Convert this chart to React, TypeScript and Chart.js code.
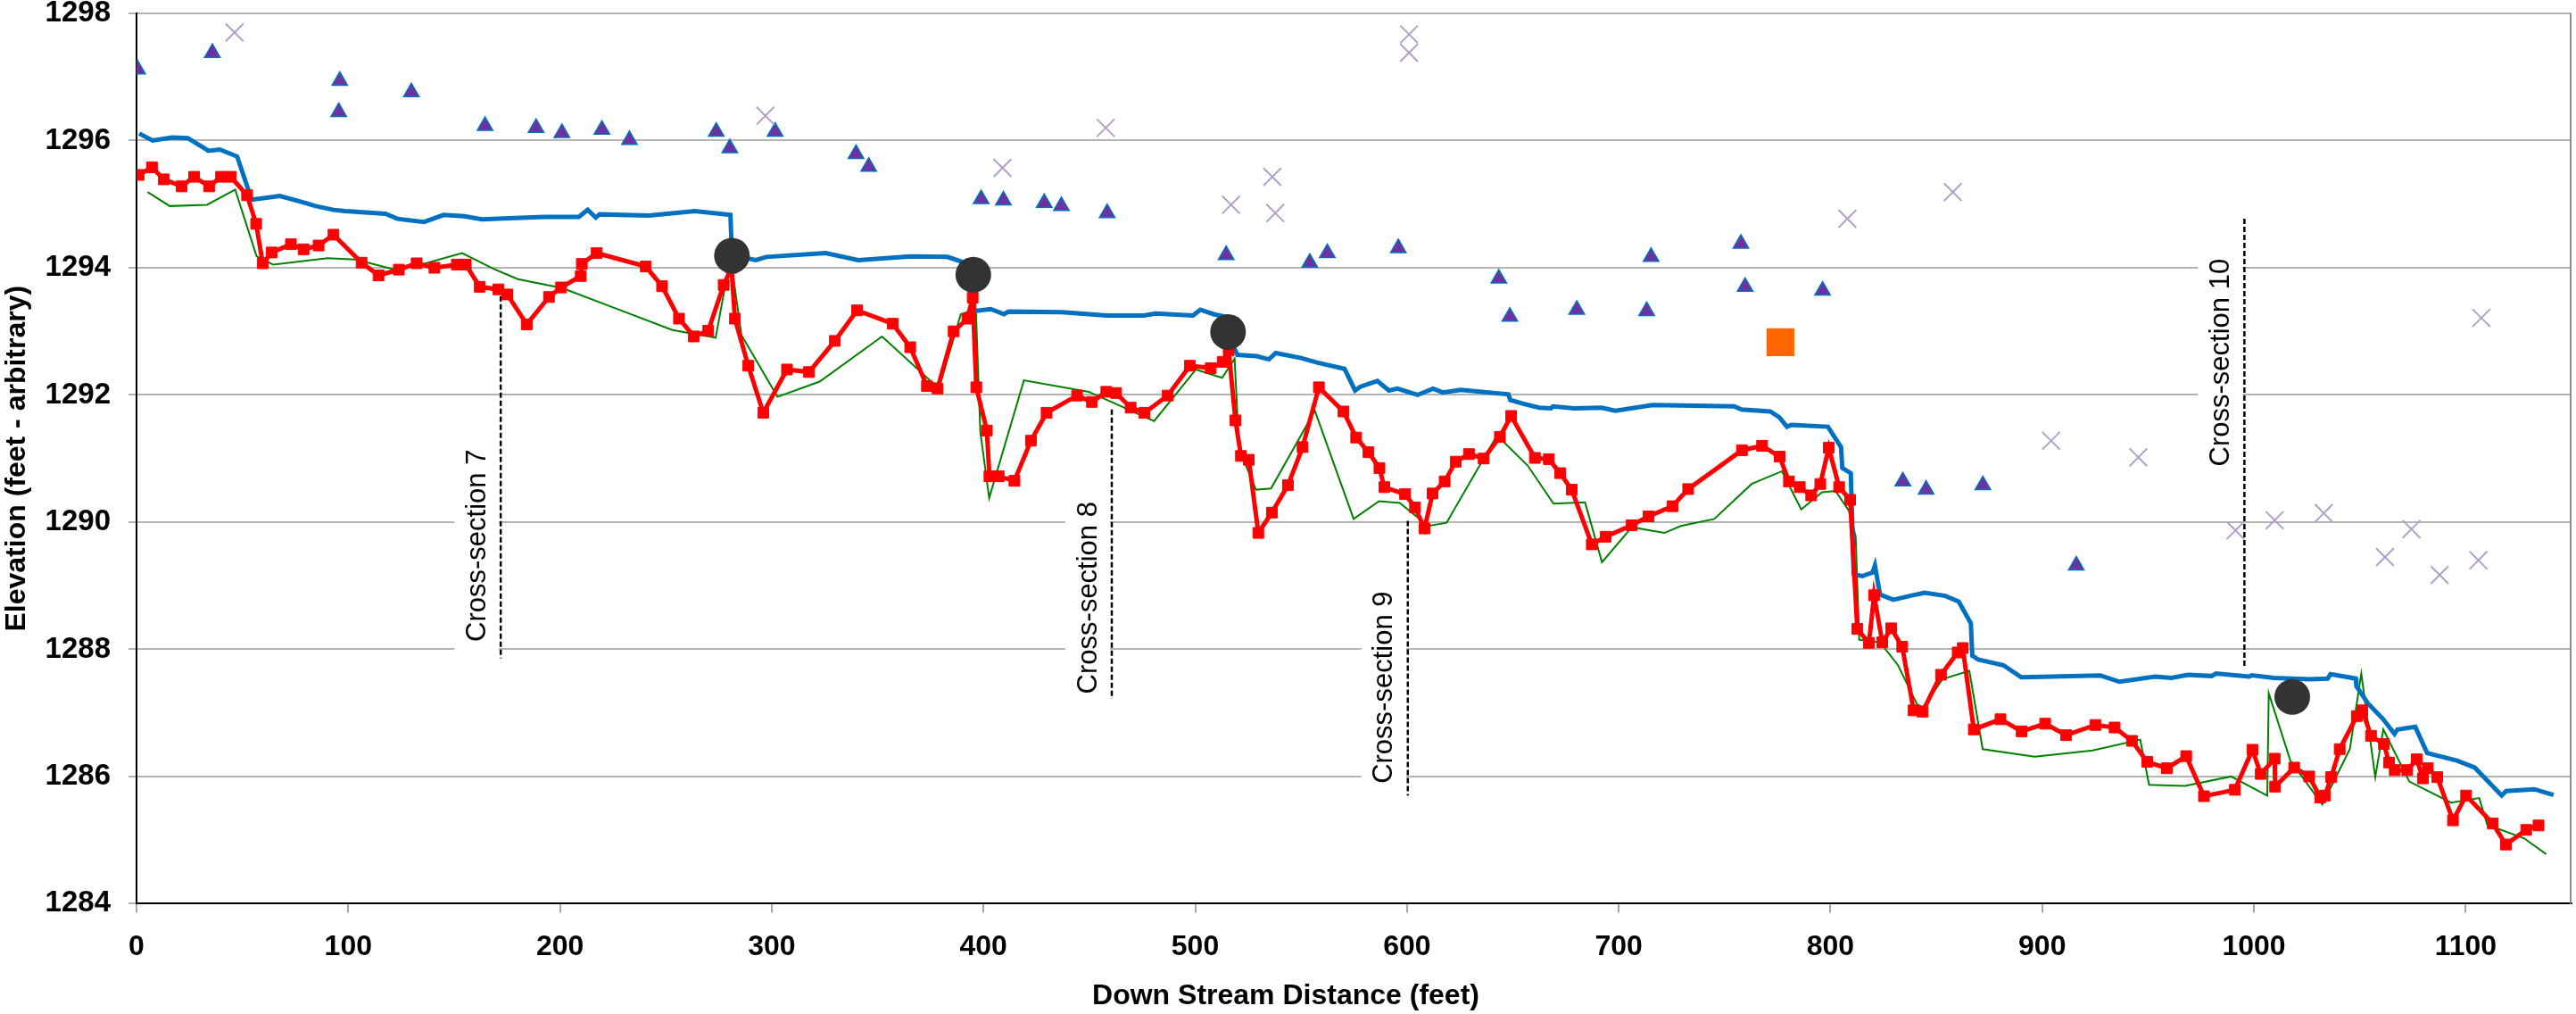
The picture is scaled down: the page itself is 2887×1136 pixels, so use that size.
import React, { useEffect, useRef } from 'react';
import { Chart, registerables } from 'chart.js';

Chart.register(...registerables);

const FONT = "'Liberation Sans', Arial, Helvetica, sans-serif";

// Water surface profile (blue)
const surfaceDist = [1.3, 7.6, 16.9, 24.2, 34, 39.3, 47.5, 54.4, 67.7, 77.5, 84.6, 93, 98.6, 117.6, 123.2, 135.8, 145, 154.8, 163.2, 175.8, 192.7, 208.9, 213.1, 216.9, 218.7, 241.9, 263.7, 280.5, 281.2, 288.2, 292.4, 297.4, 325.5, 340.9, 365.5, 383, 389.3, 395, 395.7, 403.4, 409.7, 411.8, 437.1, 458.2, 475.7, 481.3, 498.9, 502.4, 508.7, 514.3, 516, 520, 529, 534.8, 538, 550, 557.5, 570.5, 575.5, 578, 586, 591.5, 595.5, 605, 612.3, 617, 625.4, 647.9, 648.8, 655, 662.5, 668, 669, 679, 692, 698.4, 716, 754.5, 758, 771.5, 775.8, 779.5, 781.5, 798.8, 805, 805.6, 809.6, 811, 815, 819.9, 821, 823.4, 829.7, 837.5, 844.5, 854.3, 860.6, 866.3, 867, 869.8, 881.7, 890.1, 927.4, 936.5, 953.3, 961, 968.8, 980, 982.1, 997.6, 999, 1009.5, 1026.4, 1034.8, 1036.2, 1048.1, 1048.4, 1053.8, 1060.8, 1066.4, 1067.8, 1076.2, 1081.8, 1095.9, 1104.3, 1117, 1119.1, 1132.4, 1141.5];
const surfaceElev = [1296.11, 1296.0, 1296.05, 1296.04, 1295.84, 1295.86, 1295.75, 1295.07, 1295.13, 1295.04, 1294.97, 1294.91, 1294.89, 1294.85, 1294.77, 1294.72, 1294.83, 1294.81, 1294.76, 1294.78, 1294.8, 1294.8, 1294.91, 1294.79, 1294.84, 1294.82, 1294.89, 1294.83, 1294.2, 1294.15, 1294.12, 1294.17, 1294.23, 1294.12, 1294.18, 1294.17, 1294.1, 1293.98, 1293.32, 1293.35, 1293.27, 1293.31, 1293.3, 1293.25, 1293.25, 1293.28, 1293.25, 1293.34, 1293.27, 1293.23, 1292.9, 1292.63, 1292.61, 1292.56, 1292.66, 1292.58, 1292.51, 1292.41, 1292.07, 1292.13, 1292.22, 1292.07, 1292.1, 1292.0, 1292.1, 1292.04, 1292.08, 1292.01, 1291.92, 1291.86, 1291.8, 1291.79, 1291.82, 1291.79, 1291.8, 1291.75, 1291.84, 1291.82, 1291.77, 1291.74, 1291.65, 1291.5, 1291.53, 1291.5, 1291.18, 1290.85, 1290.77, 1289.18, 1289.15, 1289.21, 1289.32, 1288.86, 1288.78, 1288.84, 1288.89, 1288.84, 1288.75, 1288.41, 1287.9, 1287.84, 1287.75, 1287.56, 1287.59, 1287.49, 1287.57, 1287.55, 1287.6, 1287.58, 1287.62, 1287.57, 1287.59, 1287.55, 1287.53, 1287.54, 1287.61, 1287.54, 1287.42, 1287.15, 1286.91, 1286.67, 1286.74, 1286.78, 1286.37, 1286.25, 1286.14, 1285.7, 1285.77, 1285.8, 1285.71];

// Thalweg survey (red squares)
const thalwegDist = [1, 7.3, 12.9, 21.3, 27.2, 34.3, 39.9, 44.5, 52.2, 56.5, 59.6, 63.8, 72.9, 78.9, 86, 93, 106.3, 114.3, 123.9, 132.3, 140.7, 151.3, 155.5, 162.1, 170.9, 175.1, 184.3, 194.8, 200.5, 209.8, 210.3, 217.3, 240.5, 248.2, 256.2, 263.2, 270, 277.3, 281, 282.6, 288.9, 296, 307.2, 317.6, 329.8, 340.3, 357.1, 365.4, 373.3, 378.3, 385.9, 392.4, 394.9, 396.6, 401.6, 402.8, 407.2, 414.6, 422.4, 429.8, 444.2, 451.2, 458, 462.6, 469.5, 476, 487, 497.5, 507.3, 513, 515.8, 519, 521.6, 525.3, 529.8, 536.2, 543.8, 550.7, 558.4, 570, 576, 581.8, 587, 589.3, 599.1, 603.8, 608.3, 612.1, 617.8, 623, 629.3, 636.2, 643.9, 649.2, 660.4, 667, 672.3, 677.8, 687.3, 693.8, 706.1, 714.1, 725.4, 732.8, 758.2, 767.7, 776, 780.4, 785.5, 790.9, 795.2, 799.2, 804.1, 809.3, 812.7, 818.2, 820.6, 824.5, 828.7, 833.9, 839.3, 843.5, 852.2, 860.1, 862.5, 867.7, 880.3, 890.3, 901.4, 911.3, 925.1, 934.2, 942.4, 949.6, 958.9, 968, 976.4, 991, 999.3, 1003.2, 1009.8, 1010, 1019, 1026.1, 1031.3, 1033.6, 1036.5, 1040.5, 1048.6, 1051.2, 1055.3, 1061.4, 1063.8, 1066.5, 1072.4, 1076.9, 1079.8, 1082.1, 1086.6, 1094, 1100.2, 1112.8, 1119, 1128.6, 1134.4];
const thalwegElev = [1295.46, 1295.58, 1295.39, 1295.28, 1295.43, 1295.28, 1295.43, 1295.43, 1295.14, 1294.69, 1294.07, 1294.24, 1294.37, 1294.29, 1294.35, 1294.52, 1294.08, 1293.88, 1293.97, 1294.07, 1294.0, 1294.05, 1294.05, 1293.7, 1293.66, 1293.58, 1293.11, 1293.54, 1293.69, 1293.87, 1294.06, 1294.23, 1294.02, 1293.71, 1293.2, 1292.92, 1293.01, 1293.73, 1294.0, 1293.2, 1292.46, 1291.72, 1292.4, 1292.36, 1292.85, 1293.33, 1293.12, 1292.75, 1292.14, 1292.1, 1293.0, 1293.2, 1293.53, 1292.12, 1291.44, 1290.72, 1290.72, 1290.65, 1291.28, 1291.72, 1291.99, 1291.89, 1292.05, 1292.03, 1291.8, 1291.72, 1291.99, 1292.46, 1292.42, 1292.52, 1292.7, 1291.6, 1291.04, 1290.98, 1289.83, 1290.15, 1290.58, 1291.18, 1292.12, 1291.74, 1291.33, 1291.1, 1290.85, 1290.55, 1290.44, 1290.23, 1289.9, 1290.45, 1290.64, 1290.95, 1291.07, 1291.0, 1291.34, 1291.67, 1291.01, 1290.99, 1290.77, 1290.51, 1289.65, 1289.77, 1289.95, 1290.09, 1290.25, 1290.52, 1291.13, 1291.2, 1291.03, 1290.64, 1290.55, 1290.42, 1290.6, 1291.17, 1290.55, 1290.35, 1288.32, 1288.1, 1288.85, 1288.11, 1288.33, 1288.04, 1287.04, 1287.02, 1287.6, 1287.95, 1288.02, 1286.74, 1286.9, 1286.71, 1286.83, 1286.65, 1286.81, 1286.77, 1286.56, 1286.23, 1286.13, 1286.32, 1285.69, 1285.79, 1286.42, 1286.04, 1286.28, 1285.84, 1286.14, 1286.0, 1285.67, 1285.7, 1285.99, 1286.43, 1286.95, 1287.04, 1286.64, 1286.51, 1286.22, 1286.1, 1286.1, 1286.27, 1285.97, 1286.13, 1285.99, 1285.31, 1285.7, 1285.26, 1284.93, 1285.16, 1285.23];

// Earlier bed profile (green)
const bedDist = [5.2, 15.7, 33.3, 46.6, 56.7, 64.5, 90.2, 103.5, 121.1, 136.5, 153.8, 168.8, 180.1, 201.1, 226.4, 253.1, 263, 273.5, 278.1, 281, 285.7, 302.7, 322.6, 352.1, 376, 379.5, 389.3, 396.4, 398.5, 402.7, 419.1, 449.7, 480.6, 500.3, 512.7, 518.6, 520.7, 528.7, 535.8, 556.5, 574.8, 586.8, 596.6, 610, 618.7, 642.3, 645.1, 657, 669.2, 684.1, 692.1, 706.2, 721.6, 729.3, 745.1, 762.8, 777.1, 786.2, 796, 802.4, 808.7, 811.9, 813.6, 823.4, 831.9, 841, 843.8, 852.9, 865.6, 871.9, 896.5, 923.8, 946.3, 950.5, 967.4, 989.2, 1006.3, 1007, 1017.2, 1032.3, 1045.3, 1050.7, 1057.3, 1061.1, 1073.4, 1093.1, 1106.4, 1110.2, 1127.5, 1138];
const bedElev = [1295.19, 1294.97, 1294.99, 1295.23, 1294.18, 1294.05, 1294.15, 1294.13, 1293.98, 1294.07, 1294.23, 1293.98, 1293.82, 1293.68, 1293.36, 1293.02, 1292.96, 1292.9, 1293.73, 1294.05, 1292.94, 1291.97, 1292.21, 1292.92, 1292.19, 1292.17, 1293.27, 1293.35, 1291.42, 1290.38, 1292.23, 1292.05, 1291.59, 1292.4, 1292.27, 1292.57, 1291.15, 1290.51, 1290.53, 1291.75, 1290.05, 1290.33, 1290.3, 1289.94, 1289.99, 1291.35, 1291.28, 1290.89, 1290.29, 1290.31, 1289.37, 1289.92, 1289.83, 1289.94, 1290.05, 1290.6, 1290.8, 1290.2, 1290.47, 1290.49, 1290.18, 1289.78, 1288.15, 1288.11, 1287.75, 1287.13, 1287.09, 1287.53, 1287.66, 1286.43, 1286.31, 1286.41, 1286.58, 1285.87, 1285.85, 1286.0, 1285.7, 1287.31, 1286.25, 1285.56, 1286.43, 1287.62, 1285.99, 1286.74, 1285.92, 1285.59, 1285.66, 1285.24, 1285.03, 1284.78];

// Bank points (triangles)
const bankDist = [0.5, 35.8, 96, 95.5, 129.8, 164.6, 188.7, 200.9, 219.8, 232.8, 273.8, 280.2, 301.6, 339.8, 345.8, 398.9, 409.4, 428.7, 436.8, 458.4, 514.6, 554.1, 562.4, 595.9, 643.4, 648.6, 680.2, 715.3, 713.2, 757.7, 759.7, 796.3, 834.2, 845.2, 872, 916.1];
const bankElev = [1297.12, 1297.38, 1296.94, 1296.45, 1296.76, 1296.23, 1296.2, 1296.12, 1296.17, 1296.01, 1296.14, 1295.88, 1296.14, 1295.79, 1295.59, 1295.08, 1295.06, 1295.02, 1294.97, 1294.86, 1294.2, 1294.08, 1294.23, 1294.31, 1293.83, 1293.23, 1293.34, 1294.17, 1293.32, 1294.38, 1293.7, 1293.64, 1290.64, 1290.51, 1290.58, 1289.32];

// Terrace points (crosses)
const terraceDist = [46.3, 297, 409, 457.7, 516.9, 536.4, 537.8, 601, 601, 808, 857.8, 904.2, 945.4, 991.3, 1009.8, 1033, 1061.9, 1074.4, 1087.7, 1106, 1107.4];
const terraceElev = [1297.7, 1296.39, 1295.57, 1296.2, 1294.99, 1295.43, 1294.86, 1297.67, 1297.38, 1294.77, 1295.19, 1291.28, 1291.02, 1289.87, 1290.03, 1290.14, 1289.45, 1289.89, 1289.17, 1289.4, 1293.21];

// Control points (dark circles)
const controlDist = [281.2, 395.2, 515.5, 1018.1];
const controlElev = [1294.19, 1293.89, 1292.99, 1287.25];

// Single marker (orange square)
const markerDist = [776.4];
const markerElev = [1292.83];

// Cross-section lines
const csLabels = ['Cross-section 7', 'Cross-section 8', 'Cross-section 9', 'Cross-section 10'];
const csDist = [172, 460.6, 600.4, 995.5];
const csTop = [1293.68, 1291.77, 1290.02, 1294.77];
const csBottom = [1287.86, 1287.22, 1285.7, 1287.71];
const csLabelElev = [1289.63, 1288.81, 1287.4, 1292.51];

const pts = (xs: number[], ys: number[]) => xs.map((x, i) => ({ x, y: ys[i] }));

const csPlugin = {
  id: 'csLabels',
  beforeDatasetsDraw(chart: any) {
    const { ctx, chartArea, scales } = chart;
    const xs = scales.x;
    const ys = scales.y;
    ctx.save();
    ctx.strokeStyle = '#8c8c8c';
    ctx.lineWidth = 2;
    ctx.beginPath();
    ctx.moveTo(chartArea.right - 1, chartArea.top);
    ctx.lineTo(chartArea.right - 1, chartArea.bottom);
    ctx.stroke();
    ctx.font = `31px ${FONT}`;
    csLabels.forEach((label, i) => {
      const px = xs.getPixelForValue(csDist[i]) - 27;
      const py = ys.getPixelForValue(csLabelElev[i]);
      const w = ctx.measureText(label).width;
      ctx.fillStyle = '#ffffff';
      ctx.fillRect(px - 25, py - w / 2 - 10, 50, w + 20);
      ctx.save();
      ctx.translate(px, py);
      ctx.rotate(-Math.PI / 2);
      ctx.fillStyle = '#000000';
      ctx.textAlign = 'center';
      ctx.textBaseline = 'middle';
      ctx.fillText(label, 0, 1);
      ctx.restore();
    });
    ctx.restore();
  },
};

export default function App() {
  const ref = useRef<HTMLCanvasElement | null>(null);
  useEffect(() => {
    if (!ref.current) return;
    const csSets = csDist.map((d, i) => ({
      label: csLabels[i],
      data: [{ x: d, y: csTop[i] }, { x: d, y: csBottom[i] }],
      showLine: true,
      borderColor: '#000000',
      borderWidth: 2.5,
      borderDash: [6, 3],
      pointRadius: 0,
      order: 8,
    }));
    const chart = new Chart(ref.current, {
      type: 'scatter',
      data: {
        datasets: [
          {
            label: 'Control',
            data: pts(controlDist, controlElev),
            pointStyle: 'circle',
            pointRadius: 20,
            backgroundColor: '#333333',
            borderColor: '#333333',
            borderWidth: 0,
            order: 0,
          },
          {
            label: 'Marker',
            data: pts(markerDist, markerElev),
            pointStyle: 'rect',
            pointRadius: 22,
            backgroundColor: '#FF6600',
            borderColor: '#FF6600',
            borderWidth: 0,
            order: 1,
          },
          {
            label: 'Terrace',
            data: pts(terraceDist, terraceElev),
            pointStyle: 'crossRot',
            pointRadius: 14,
            borderColor: '#B1A0C7',
            borderWidth: 2,
            order: 2,
          },
          {
            label: 'Bank',
            data: pts(bankDist, bankElev),
            pointStyle: 'triangle',
            pointRadius: 10,
            backgroundColor: '#7030A0',
            borderColor: '#0070C0',
            borderWidth: 1.5,
            order: 3,
          },
          {
            label: 'Thalweg',
            data: pts(thalwegDist, thalwegElev),
            showLine: true,
            borderColor: '#FF0000',
            borderWidth: 5,
            pointStyle: 'rect',
            pointRadius: 8.5,
            backgroundColor: '#FF0000',
            pointBorderColor: '#FF0000',
            pointBorderWidth: 1,
            order: 4,
          },
          {
            label: 'Water surface',
            data: pts(surfaceDist, surfaceElev),
            showLine: true,
            borderColor: '#0070C0',
            borderWidth: 5,
            pointRadius: 0,
            order: 5,
          },
          {
            label: 'Bed',
            data: pts(bedDist, bedElev),
            showLine: true,
            borderColor: '#008000',
            borderWidth: 2,
            pointRadius: 0,
            order: 6,
          },
          ...csSets,
        ],
      },
      options: {
        responsive: false,
        animation: false,
        devicePixelRatio: 1,
        layout: { autoPadding: false, padding: { left: 0, right: 5, top: 15, bottom: 0 } },
        plugins: {
          legend: { display: false },
          tooltip: { enabled: false },
          title: {
            display: true,
            position: 'bottom',
            text: 'Down Stream Distance (feet)',
            color: '#000000',
            font: { family: FONT, size: 32, weight: 'bold', lineHeight: 1.2 },
            padding: { top: 4, bottom: 1 },
          },
        },
        scales: {
          x: {
            type: 'linear',
            min: 0,
            max: 1150,
            ticks: {
              stepSize: 100,
              includeBounds: false,
              color: '#000000',
              font: { family: FONT, size: 32, weight: 'bold' },
              padding: 20,
              maxRotation: 0,
              callback: (v: any) => String(v),
            },
            grid: {
              display: true,
              drawOnChartArea: false,
              drawTicks: true,
              tickLength: 10,
              color: '#a6a6a6',
              lineWidth: 2,
            },
            border: { color: '#000000', width: 2 },
            afterFit: (s: any) => {
              s.height = 80.2;
              s.paddingLeft = 0;
              s.paddingRight = 0;
            },
          },
          y: {
            type: 'linear',
            min: 1284,
            max: 1298,
            ticks: {
              stepSize: 2,
              color: '#000000',
              font: { family: FONT, size: 33, weight: 'bold' },
              padding: 20,
              callback: (v: any) => String(v),
            },
            grid: { color: '#b4b4b4', lineWidth: 2, tickLength: 9 },
            border: { color: '#000000', width: 2 },
            title: {
              display: true,
              text: 'Elevation (feet - arbitrary)',
              color: '#000000',
              font: { family: FONT, size: 32, weight: 'bold', lineHeight: 1.2 },
              padding: { top: 0, bottom: 0 },
            },
            afterFit: (s: any) => {
              s.width = 153;
              s.paddingTop = 0;
              s.paddingBottom = 0;
            },
          },
        },
      },
      plugins: [csPlugin],
    } as any);
    return () => chart.destroy();
  }, []);
  return (
    <canvas
      ref={ref}
      width={2887}
      height={1136}
      style={{ position: 'fixed', left: 0, top: 0, width: '2887px', height: '1136px' }}
    />
  );
}
